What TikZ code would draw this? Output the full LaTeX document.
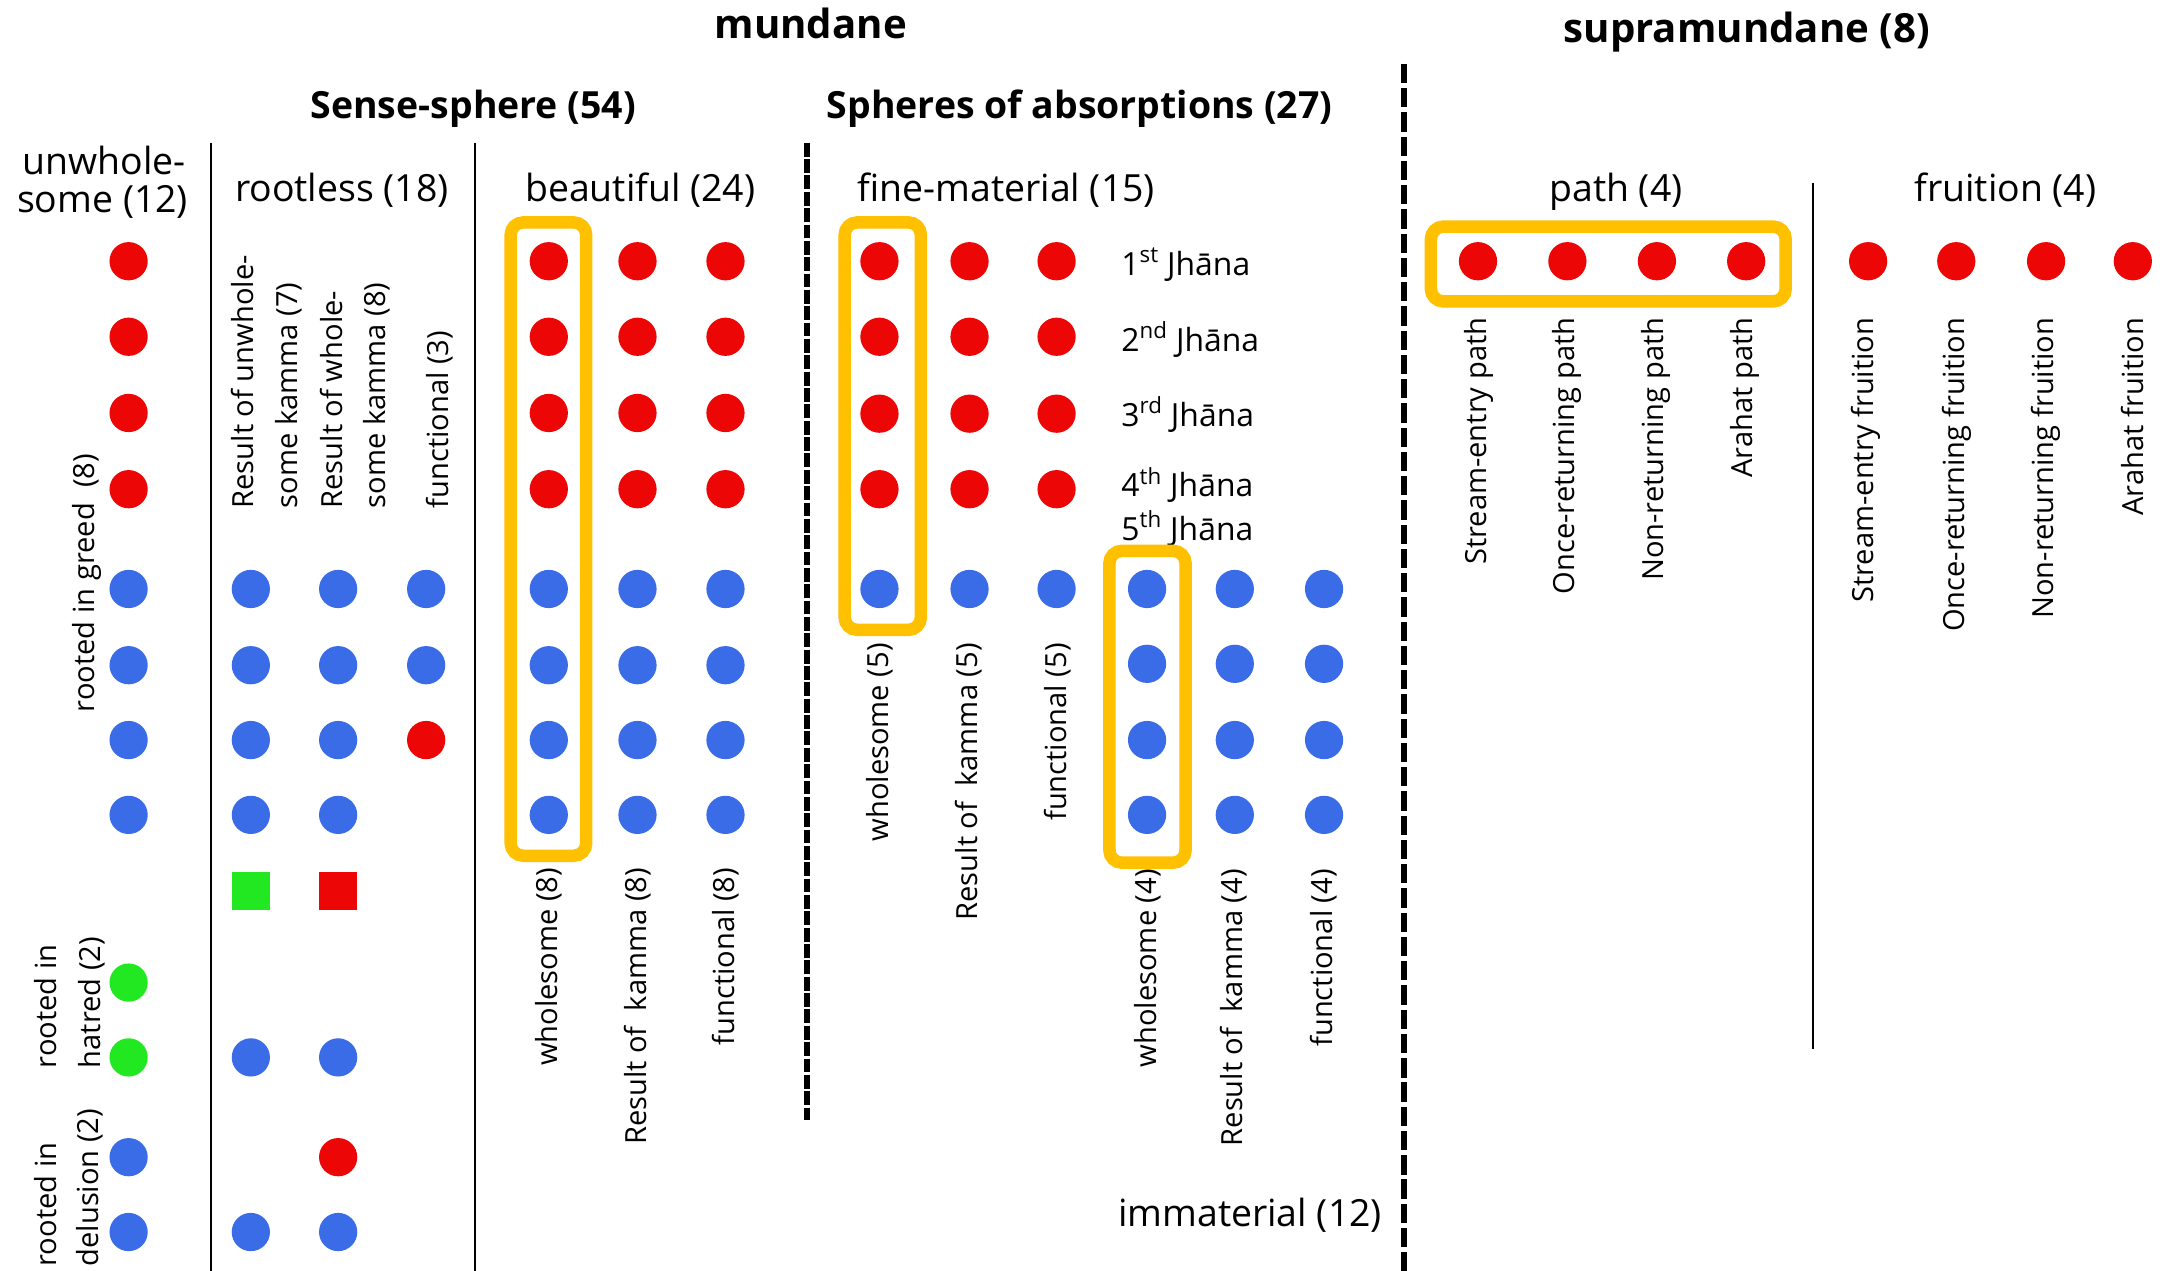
\documentclass[tikz,border=0pt]{standalone}
\usepackage{fontspec}
\setmainfont{Open Sans}
\definecolor{dred}{RGB}{236,6,6}
\definecolor{dblue}{RGB}{58,108,232}
\definecolor{dgreen}{RGB}{34,232,34}
\definecolor{hlgold}{RGB}{255,192,0}
\begin{document}
\begin{tikzpicture}[x=1pt,y=-1pt,
  dot/.style={circle,inner sep=0pt,minimum size=27.6pt,draw=none,fill=#1},
  sq/.style={rectangle,inner sep=0pt,minimum size=27.6pt,draw=none,fill=#1},
  hl/.style={draw=hlgold,line width=9pt,rounded corners=9pt},
  big/.style={font=\fontsize{27}{28}\selectfont,inner sep=0pt,anchor=base},
  ttl/.style={font=\bfseries\fontsize{29}{32}\selectfont,inner sep=0pt,anchor=base},
  subttl/.style={font=\bfseries\fontsize{27}{30}\selectfont,inner sep=0pt,anchor=base},
  rot/.style={rotate=90,font=\fontsize{21}{24}\selectfont,inner sep=0pt},
  rotup/.style={rot,anchor=west},
  rotdown/.style={rot,anchor=east},
  jh/.style={font=\fontsize{23}{25}\selectfont,inner sep=0pt,anchor=west},
  sepline/.style={line width=1.5pt},
  dsepA/.style={line width=4.3pt,dash pattern=on 10pt off 1.8pt},
  dsepB/.style={line width=4pt,dash pattern=on 14pt off 3.5pt}]
\fill[white] (0,0) rectangle (1568,917);
\useasboundingbox (0,0) rectangle (1568,917);

% separators
\draw[sepline] (152,103) -- (152,917);
\draw[sepline] (343,103) -- (343,917);
\draw[sepline] (1308,132) -- (1308,757);
\draw[dsepA] (582,103) -- (582,808);
\draw[dsepB] (1013,46) -- (1013,917);

% titles
\node[ttl] (mundane) at (585,27.5) {mundane};
\node[ttl] (supra) at (1260.5,30.5) {supramundane (8)};
\node[subttl] (sense) at (341.5,85.6) {Sense-sphere (54)};
\node[subttl] (absorb) at (779,85.6) {Spheres of absorptions (27)};

% group headers
\node[big] (unw1) at (75,126) {unwhole-};
\node[big] (unw2) at (74,153) {some (12)};
\node[big] (rootless) at (246.7,145.5) {rootless (18)};
\node[big] (beautiful) at (462,145.5) {beautiful (24)};
\node[big] (finemat) at (726,145.5) {fine-material (15)};
\node[big] (path) at (1166,145.5) {path (4)};
\node[big] (fruition) at (1447,145.5) {fruition (4)};
\node[big] (immat) at (902,885) {immaterial (12)};

% jhana labels
\node[jh] (j1) at (809,191) {1\textsuperscript{st} Jhāna};
\node[jh] (j2) at (809,245) {2\textsuperscript{nd} Jhāna};
\node[jh] (j3) at (809,299) {3\textsuperscript{rd} Jhāna};
\node[jh] (j4) at (809,350) {4\textsuperscript{th} Jhāna};
\node[jh] (j5) at (809,381.5) {5\textsuperscript{th} Jhāna};

% highlight boxes
\draw[hl] (368.5,160.5) rectangle (423,617.5);
\draw[hl] (609.5,160.5) rectangle (664.5,454.5);
\draw[hl] (800.5,397.5) rectangle (855.5,622.5);
\draw[hl] (1032.5,163.5) rectangle (1288.5,217.5);

% unwholesome dots
\foreach \y/\c [count=\i] in {188.5/dred,243/dred,298/dred,353/dred,425/dblue,480/dblue,534/dblue,588/dblue,709/dgreen,763/dgreen,835/dblue,889/dblue}
  \node[dot=\c] (uw\i) at (92.8,\y) {};

% rootless dots
\foreach \y/\c [count=\i] in {425/dblue,480/dblue,534/dblue,588/dblue,763/dblue,889/dblue}
  \node[dot=\c] (ra\i) at (181,\y) {};
\node[sq=dgreen] (rasq) at (181,643) {};
\foreach \y/\c [count=\i] in {425/dblue,480/dblue,534/dblue,588/dblue,763/dblue,835/dred,889/dblue}
  \node[dot=\c] (rb\i) at (244,\y) {};
\node[sq=dred] (rbsq) at (244,643) {};
\foreach \y/\c [count=\i] in {425/dblue,480/dblue,534/dred}
  \node[dot=\c] (rc\i) at (307.5,\y) {};

% beautiful, fine-material dots
\foreach \x [count=\j] in {396,460,523.5}
  \foreach \y/\c [count=\i] in {188.5/dred,243/dred,298/dred,353/dred,425/dblue,480/dblue,534/dblue,588/dblue}
    \node[dot=\c] (be\j-\i) at (\x,\y) {};
\foreach \x [count=\j] in {634.6,699.6,762.4}
  \foreach \y/\c [count=\i] in {188.5/dred,243/dred,298.5/dred,353/dred,425/dblue}
    \node[dot=\c] (fm\j-\i) at (\x,\y) {};
\foreach \x [count=\j] in {827.7,891,955.4}
  \foreach \y [count=\i] in {425,479,534,588}
    \node[dot=dblue] (im\j-\i) at (\x,\y) {};

% supramundane dots
\foreach \x [count=\j] in {1066.5,1131,1195.6,1260,1348,1411.6,1476.4,1539}
  \node[dot=dred] (sp\j) at (\x,188.5) {};

% rotated labels: unwholesome
\node[rotup] (greed) at (63,514) {rooted in greed\ \ (8)};
\node[rotup] (hat1) at (33,771) {rooted in};
\node[rotup] (hat2) at (66,771) {hatred (2)};
\node[rotup] (del1) at (33,914) {rooted in};
\node[rotup] (del2) at (65,914) {delusion (2)};

% rotated labels: rootless
\node[rotup] (ru1) at (175,367) {Result of unwhole-};
\node[rotup] (ru2) at (208,367) {some kamma (7)};
\node[rotup] (rw1) at (239.5,367) {Result of whole-};
\node[rotup] (rw2) at (272,367) {some kamma (8)};
\node[rotup] (rf) at (317,367) {functional (3)};

% rotated labels: beautiful
\node[rotdown] (bl1) at (396,626) {wholesome (8)};
\node[rotdown] (bl2) at (460,626) {Result of\ \ kamma (8)};
\node[rotdown] (bl3) at (523.5,626) {functional (8)};

% rotated labels: fine-material
\node[rotdown] (fl1) at (635,464) {wholesome (5)};
\node[rotdown] (fl2) at (699,464) {Result of\ \ kamma (5)};
\node[rotdown] (fl3) at (763,464) {functional (5)};

% rotated labels: immaterial
\node[rotdown] (il1) at (828,627) {wholesome (4)};
\node[rotdown] (il2) at (890.5,627) {Result of\ \ kamma (4)};
\node[rotdown] (il3) at (955,627) {functional (4)};

% rotated labels: path and fruition
\node[rotdown] (pl1) at (1067,229) {Stream-entry path};
\node[rotdown] (pl2) at (1131,229) {Once-returning path};
\node[rotdown] (pl3) at (1195,229) {Non-returning path};
\node[rotdown] (pl4) at (1259,229) {Arahat path};
\node[rotdown] (ql1) at (1346.6,229) {Stream-entry fruition};
\node[rotdown] (ql2) at (1412,229) {Once-returning fruition};
\node[rotdown] (ql3) at (1476.5,229) {Non-returning fruition};
\node[rotdown] (ql4) at (1538.6,229) {Arahat fruition};
\end{tikzpicture}
\end{document}
